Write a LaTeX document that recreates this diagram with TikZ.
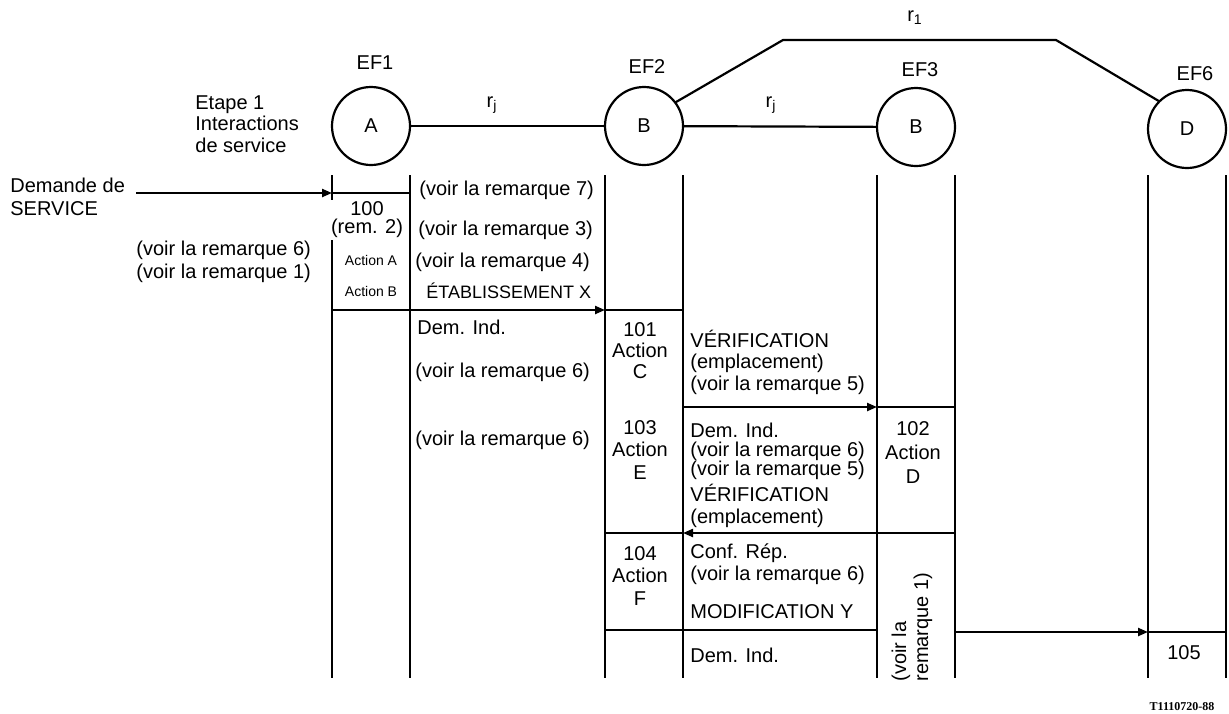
\documentclass[tikz,border=0pt]{standalone}
\usepackage{fontspec}
\setmainfont{Liberation Sans}
\newfontfamily\reffont{Liberation Serif}
\usetikzlibrary{arrows.meta, positioning, calc}

\begin{document}
\begin{tikzpicture}[
  x=0.5pt, y=-0.5pt,
  >={Triangle[length=5pt,width=4pt]},
  font=\fontsize{10}{11}\selectfont,
  entity/.style={circle, draw, line width=1.1pt, minimum size=39pt, inner sep=0pt, outer sep=0pt},
  life/.style={line width=1.1pt},
  link/.style={line width=1.1pt},
  msg/.style={->, line width=1.1pt},
  txt/.style={anchor=west, inner sep=0pt, align=left},
  act/.style={inner sep=0pt, align=center},
  small/.style={font=\fontsize{7}{8}\selectfont},
]
\useasboundingbox (0,0) rectangle (1229,713);

% Entities
\node[entity] (ef1) at (371,126) {A};
\node[entity] (ef2) at (644,126) {B};
\node[entity] (ef3) at (916,127) {B};
\node[entity] (ef6) at (1187,129) {D};
\node (ef1lbl) at (375,63) {EF1};
\node (ef2lbl) at (647,67) {EF2};
\node (ef3lbl) at (920,70) {EF3};
\node (ef6lbl) at (1195,74) {EF6};

% Relations
\coordinate (r1a) at (783,40);
\coordinate (r1b) at (1056,40);
\draw[link] (ef1) -- (ef2);
\draw[link] (ef2) -- (ef3);
\draw[link] (ef2.37) -- (r1a) -- (r1b) -- (ef6.135);
\node (rj1) at (492,105) {r\textsubscript{j}};
\node (rj2) at (771,105) {r\textsubscript{j}};
\node (r1) at (915,18) {r\textsubscript{1}};

% Lifelines
\coordinate (top) at (0,175);
\coordinate (bot) at (0,678);
\foreach \n in {ef1,ef2,ef3,ef6} {
  \draw[life] (\n.west |- top) -- (\n.west |- bot);
  \draw[life] (\n.east |- top) -- (\n.east |- bot);
}

% Messages
\coordinate (dm) at (136,193);
\draw[msg] (dm) -- (ef1.west |- dm);
\draw[link] (ef1.west |- dm) -- (ef1.east |- dm);

\coordinate (m1) at (0,310);
\draw[msg] (ef1.west |- m1) -- (ef2.west |- m1);
\draw[link] (ef2.west |- m1) -- (ef2.east |- m1);

\coordinate (m2) at (0,407);
\draw[msg] (ef2.east |- m2) -- (ef3.west |- m2);
\draw[link] (ef3.west |- m2) -- (ef3.east |- m2);

\coordinate (m3) at (0,533);
\draw[msg] (ef3.east |- m3) -- (ef2.east |- m3);
\draw[link] (ef2.east |- m3) -- (ef2.west |- m3);

\coordinate (m4) at (0,630);
\draw[link] (ef2.west |- m4) -- (ef3.west |- m4);

\coordinate (m5) at (0,632);
\draw[msg] (ef3.east |- m5) -- (ef6.west |- m5);
\draw[link] (ef6.west |- m5) -- (ef6.east |- m5);

% Stage 1, EF1
\node[txt, font=\fontsize{10}{10.75}\selectfont] (etape) at (195,124) {Etape 1\\Interactions\\de service};
\node[txt, font=\fontsize{10}{11.5}\selectfont] (demande) at (10,197) {Demande de\\SERVICE};
\node[act, fill=white, inner sep=1pt, font=\fontsize{10}{9}\selectfont] (a100) at (367,220) {100\\(rem. 2)};
\node[txt, font=\fontsize{10}{11.5}\selectfont] (rem61) at (136,262) {(voir la remarque 6)\\(voir la remarque 1)};
\node[act, small] (acta) at (371,260) {Action A};
\node[act, small] (actb) at (371,291) {Action B};

% EF1 -- EF2
\node[txt] (rem7) at (419,190) {(voir la remarque 7)};
\node[txt] (rem3) at (418,230) {(voir la remarque 3)};
\node[txt] (rem4) at (415,262) {(voir la remarque 4)};
\node[txt, font=\fontsize{9}{10}\selectfont] (etab) at (426,291) {ÉTABLISSEMENT X};
\node[txt] (dem1) at (417,327) {Dem. Ind.};
\node[txt] (rem6a) at (415,372) {(voir la remarque 6)};
\node[txt] (rem6b) at (415,440) {(voir la remarque 6)};

% EF2
\node[act, font=\fontsize{10}{10.5}\selectfont] (a101) at (640,351) {101\\Action\\C};
\node[act, font=\fontsize{10}{11.25}\selectfont] (a103) at (640,450) {103\\Action\\E};
\node[act, font=\fontsize{10}{11.25}\selectfont] (a104) at (640,576) {104\\Action\\F};

% EF2 -- EF3
\node[txt, font=\fontsize{10}{10.75}\selectfont] (verif1) at (690,362) {VÉRIFICATION\\(emplacement)\\(voir la remarque 5)};
\node[txt, font=\fontsize{10}{9.5}\selectfont] (dem2) at (690,451) {Dem. Ind.\\(voir la remarque 6)\\(voir la remarque 5)};
\node[txt] (verif2) at (690,506) {VÉRIFICATION\\(emplacement)};
\node[txt] (conf) at (690,564) {Conf. Rép.\\(voir la remarque 6)};
\node[txt] (modif) at (690,612) {MODIFICATION Y};
\node[txt] (dem3) at (690,655) {Dem. Ind.};

% EF3, EF6
\node[act, font=\fontsize{10}{12}\selectfont] (a102) at (913,453) {102\\Action\\D};
\node[txt, rotate=90] (rem1) at (912,682) {(voir la\\remarque 1)};
\node[act] (a105) at (1184,653) {105};

\node[act, font=\reffont\bfseries\fontsize{6}{7}\selectfont] (ref) at (1182,707) {T1110720-88};

\end{tikzpicture}
\end{document}
